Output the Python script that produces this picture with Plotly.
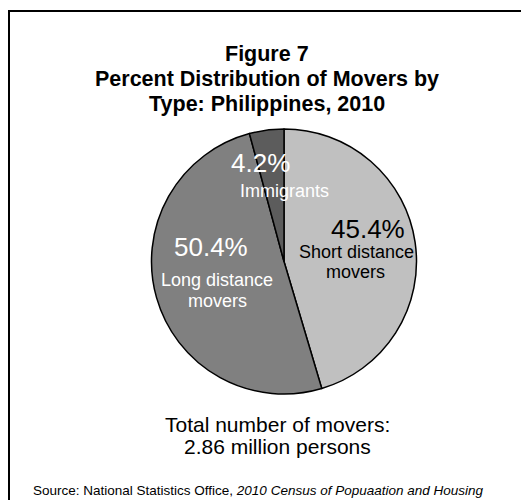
import plotly.graph_objects as go

W, H = 529, 500
OFF = 8  # page body margin of the html output

labels = ["Short distance movers", "Long distance movers", "Immigrants"]
label_lines = [["Short distance", "movers"], ["Long distance", "movers"], ["Immigrants"]]
values = [45.4, 50.4, 4.2]
colors = ["#c0c0c0", "#808080", "#5c5c5c"]
text_colors = ["black", "white", "white"]

title_lines = ["Figure 7", "Percent Distribution of Movers by", "Type: Philippines, 2010"]
total_lines = ["Total number of movers:", "2.86 million persons"]
source_plain = "Source: National Statistics Office, "
source_italic = "2010 Census of Popuaation and Housing"

FONT = "Liberation Sans, Arial, sans-serif"


def px(x):
    return (x - OFF) / W


def py(y):
    return 1 - (y - OFF) / H


def note(fig, x, y, text, size, color="black"):
    fig.add_annotation(x=px(x), y=py(y), text=text, showarrow=False,
                       xanchor="center", yanchor="middle",
                       font=dict(size=size, color=color, family=FONT))


fig = go.Figure()
fig.add_trace(go.Pie(
    labels=labels, values=values, sort=False, direction="clockwise",
    marker=dict(colors=colors, line=dict(color="black", width=1.5)),
    textinfo="none", hoverinfo="label+percent", showlegend=False,
    domain=dict(x=[px(151), px(417)], y=[py(394), py(129)]),
))

# slice labels, screen positions: percent, then each name line
pct_pos = [(368, 229), (211, 247), (260, 163)]
name_pos = [[(356, 252), (355, 272)], [(217, 280), (217, 301)], [(284, 191)]]
for i in range(len(values)):
    note(fig, *pct_pos[i], f"{values[i]}%", 26, text_colors[i])
    for (x, y), line in zip(name_pos[i], label_lines[i]):
        note(fig, x, y, line, 18, text_colors[i])

for y, line in zip([54, 79, 104], title_lines):
    note(fig, 267, y, f"<b>{line}</b>", 21.5)
for y, line in zip([424, 446], total_lines):
    note(fig, 277, y, line, 21)
note(fig, 258, 490, source_plain + "<i>" + source_italic + "</i>", 13.5)

fig.add_shape(type="rect", xref="paper", yref="paper",
              x0=px(9), y0=py(11), x1=px(580), y1=py(560),
              line=dict(color="black", width=2))

fig.update_layout(
    width=W, height=H, margin=dict(l=0, r=0, t=0, b=0),
    paper_bgcolor="white", plot_bgcolor="white",
)
fig.write_html("out.html")
